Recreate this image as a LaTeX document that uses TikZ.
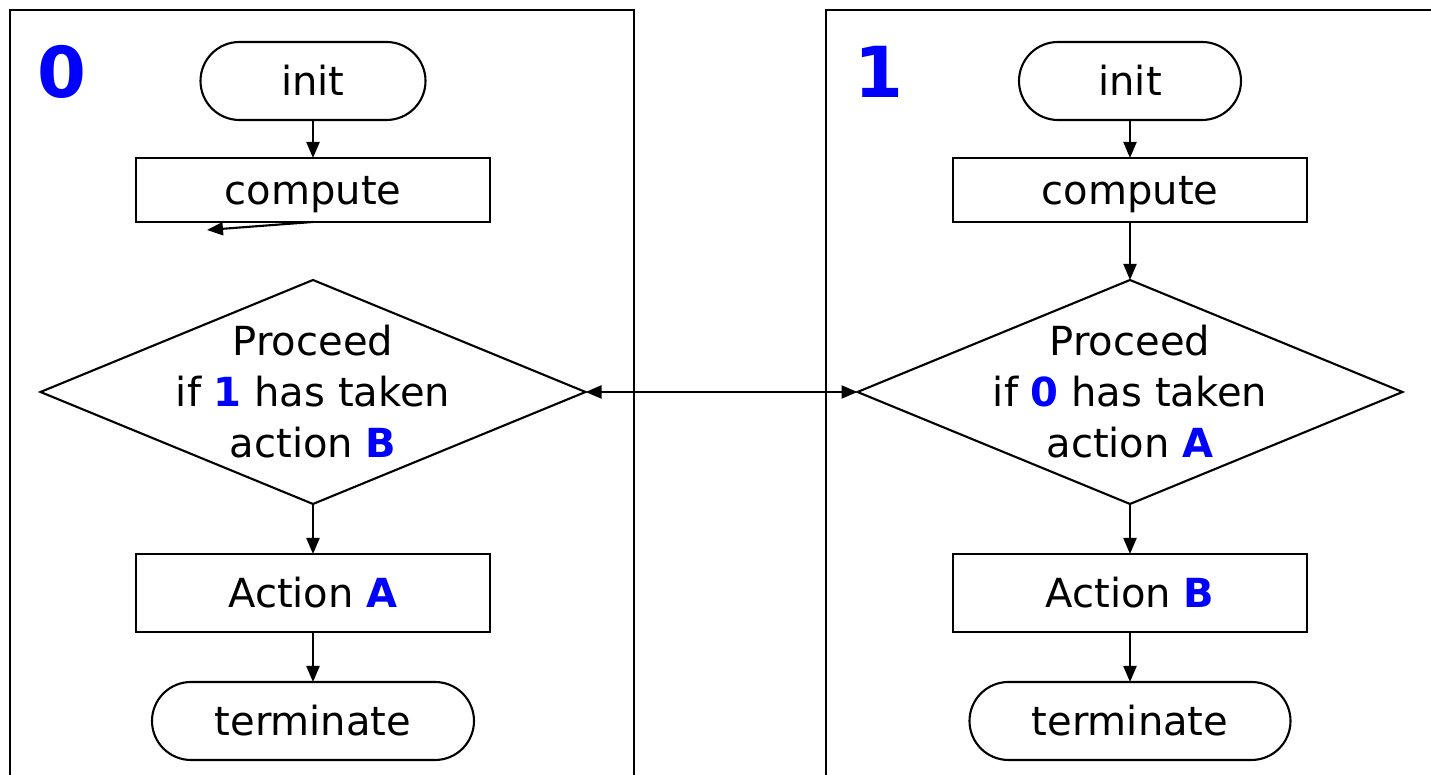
\documentclass[tikz,border=0pt]{standalone}
\usepackage{fontspec}
\setmainfont{DejaVu Sans}
\usetikzlibrary{arrows.meta, positioning, shapes.geometric}

\definecolor{procblue}{RGB}{0,0,255}
\newcommand\boxfont{\fontsize{11.4}{14.5}\selectfont}
\newcommand\bluebf[1]{\textcolor{procblue}{\textbf{#1}}}

\begin{document}
\begin{tikzpicture}[
            > = {Triangle[length=1.6mm, width=1.3mm]}, % arrow head style
            semithick % line style
        ]

        \tikzstyle{terminal}=[
            draw = black,
            rectangle,
            outer sep = 0pt,
            rounded corners = 0.39cm,
            minimum height = 0.78cm,
            text height = 8.5pt,
            text depth = 0.5pt,
            font = \boxfont
        ]
        \tikzstyle{process}=[
            draw = black,
            rectangle,
            outer sep = 0pt,
            minimum width = 3.54cm,
            text height = 8.5pt,
            text depth = 0.5pt,
            font = \boxfont
        ]
        \tikzstyle{decision}=[
            draw = black,
            diamond,
            inner sep = 0pt,
            outer sep = 0pt,
            minimum width = 5.45cm,
            minimum height = 2.24cm
        ]
        \tikzstyle{panel}=[line width = 0.8pt]

        \useasboundingbox (0,0) rectangle (14.31,-7.75);

        % the two processes
        \draw[panel] (0.10,-7.80) -- (0.10,-0.10) -- (6.34,-0.10) -- (6.34,-7.80);
        \draw[panel] (8.26,-7.80) -- (8.26,-0.10) -- (14.40,-0.10);
        \node[font=\fontsize{20}{20}\selectfont\bfseries, text=procblue] (p0) at (0.62,-0.72) {0};
        \node[font=\fontsize{20}{20}\selectfont\bfseries, text=procblue] (p1) at (8.79,-0.72) {1};

        % process 0
        \node[terminal, minimum width=2.25cm] (init0) at (3.13,-0.81) {init};
        \node[process, minimum height=0.64cm] (comp0) [below=0.38cm of init0] {compute};
        \node[decision] (dec0) [below=0.58cm of comp0] {};
        \node[align=center, font=\boxfont] (txt0) at (dec0) {Proceed\\if \bluebf{1} has taken\\action \bluebf{B}};
        \node[process, minimum height=0.78cm] (act0) [below=0.50cm of dec0] {Action \bluebf{A}};
        \node[terminal, minimum width=3.22cm] (term0) [below=0.50cm of act0] {terminate};
        \coordinate (stray0) at (2.07,-2.30);

        % process 1
        \node[terminal, minimum width=2.22cm] (init1) at (11.30,-0.81) {init};
        \node[process, minimum height=0.64cm] (comp1) [below=0.38cm of init1] {compute};
        \node[decision] (dec1) [below=0.58cm of comp1] {};
        \node[align=center, font=\boxfont] (txt1) at (dec1) {Proceed\\if \bluebf{0} has taken\\action \bluebf{A}};
        \node[process, minimum height=0.78cm] (act1) [below=0.50cm of dec1] {Action \bluebf{B}};
        \node[terminal, minimum width=3.21cm] (term1) [below=0.50cm of act1] {terminate};

        \draw[->] (init0) -- (comp0);
        \draw[->] (comp0.south) -- (stray0);
        \draw[->] (dec0) -- (act0);
        \draw[->] (act0) -- (term0);

        \draw[->] (init1) -- (comp1);
        \draw[->] (comp1) -- (dec1);
        \draw[->] (dec1) -- (act1);
        \draw[->] (act1) -- (term1);

        \draw[<->] (dec0.east) -- (dec1.west);

    \end{tikzpicture}
\end{document}
